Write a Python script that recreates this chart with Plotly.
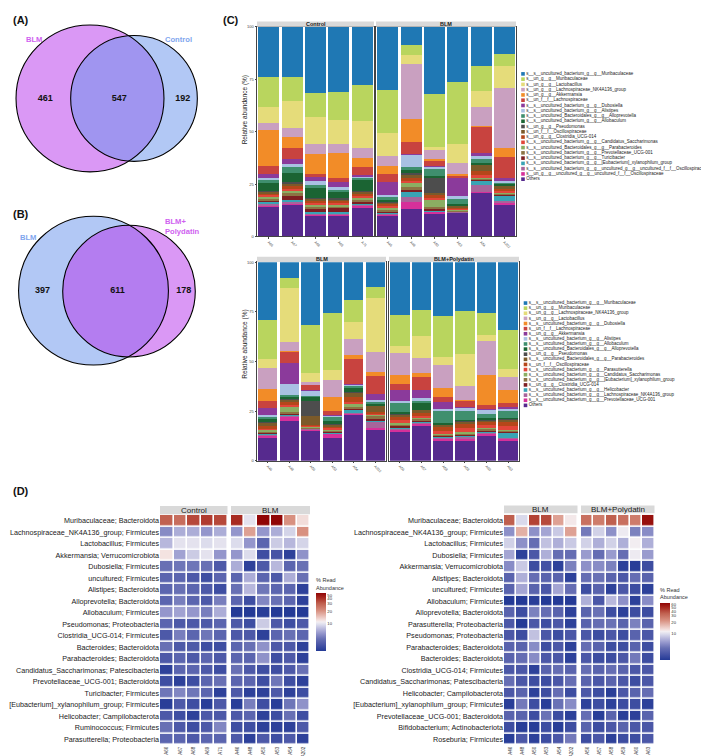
import numpy as np
import plotly.graph_objects as go

W, H = 709, 756
FONT = "Liberation Sans, Arial, sans-serif"
TXT = "#222222"

# ---------------- DATA ----------------
venn_a_sets = ["BLM", "Control"]
venn_a_counts = [461, 547, 192]          # only first, shared, only second
venn_b_sets = ["BLM", "BLM+<br>Polydatin"]
venn_b_counts = [397, 611, 178]

samples_control = ["A66", "A67", "A68", "A69", "A71"]
samples_blm = ["A46", "A48", "A50", "A53", "A54", "A202"]
samples_blmp = ["A56", "A57", "A58", "A59", "A60", "A63"]

taxa_top = [
    "s__s__uncultured_bacterium_g__g__Muribaculaceae",
    "s__un_g__g__Muribaculaceae",
    "s__un_g__g__Lactobacillus",
    "s__un_g__g__Lachnospiraceae_NK4A136_group",
    "s__un_g__g__Akkermansia",
    "s__un_f__f__Lachnospiraceae",
    "s__s__uncultured_bacterium_g__g__Dubosiella",
    "s__s__uncultured_bacterium_g__g__Alistipes",
    "s__s__uncultured_Bacteroidales_g__g__Alloprevotella",
    "s__s__uncultured_bacterium_g__g__Allobaculum",
    "s__un_g__g__Pseudomonas",
    "s__un_f__f__Oscillospiraceae",
    "s__un_g__g__Clostridia_UCG-014",
    "s__s__uncultured_bacterium_g__g__Candidatus_Saccharimonas",
    "s__s__uncultured_Bacteroidales_g__g__Parabacteroides",
    "s__s__uncultured_bacterium_g__g__Prevotellaceae_UCG-001",
    "s__s__uncultured_bacterium_g__g__Turicibacter",
    "s__s__uncultured_bacterium_g__g__[Eubacterium]_xylanophilum_group",
    "s__s__uncultured_bacterium_g__g__uncultured_g__g__uncultured_f__f__Oscillospiraceae",
    "s__un_g__g__uncultured_g__g__uncultured_f__f__Oscillospiraceae",
    "Others",
]
taxa_bottom = [
    "s__s__uncultured_bacterium_g__g__Muribaculaceae",
    "s__un_g__g__Muribaculaceae",
    "s__un_g__g__Lachnospiraceae_NK4A136_group",
    "s__un_g__g__Lactobacillus",
    "s__s__uncultured_bacterium_g__g__Dubosiella",
    "s__un_f__f__Lachnospiraceae",
    "s__un_g__g__Akkermansia",
    "s__s__uncultured_bacterium_g__g__Alistipes",
    "s__s__uncultured_bacterium_g__g__Allobaculum",
    "s__s__uncultured_Bacteroidales_g__g__Alloprevotella",
    "s__un_g__g__Pseudomonas",
    "s__s__uncultured_Bacteroidales_g__g__Parabacteroides",
    "s__un_f__f__Oscillospiraceae",
    "s__s__uncultured_bacterium_g__g__Parasutterella",
    "s__s__uncultured_bacterium_g__g__Candidatus_Saccharimonas",
    "s__s__uncultured_bacterium_g__g__[Eubacterium]_xylanophilum_group",
    "s__un_g__g__Clostridia_UCG-014",
    "s__s__uncultured_bacterium_g__g__Helicobacter",
    "s__s__uncultured_bacterium_g__g__Lachnospiraceae_NK4A136_group",
    "s__s__uncultured_bacterium_g__g__Prevotellaceae_UCG-001",
    "Others",
]
taxa_colors = ["#1F78B4", "#B9D55E", "#E5DC7A", "#C9A0C0", "#F28C28", "#C8433F",
               "#8B3A9B", "#A9C1E3", "#3F8F6E", "#1B6433", "#4D4D4D", "#7B5A2A",
               "#B5471A", "#E2463A", "#8BAE62", "#8C7343", "#7E1F22", "#39A4B5",
               "#A7659B", "#D6309A", "#562A8E"]

# relative abundance (%) per sample, taxa in legend order (first = top of stack)
top_control = [
    [23.7, 14.4, 7.9, 3.2, 17.2, 3.6, 1.9, 1.3, 1.5, 3.5, 0.3, 0.8, 1.0, 0.8, 0.8, 0.8, 1.0, 0.5, 0.8, 0.6, 14.4],
    [23.7, 11.5, 13.0, 4.4, 5.1, 5.5, 2.1, 1.6, 2.8, 4.3, 0.5, 1.2, 1.5, 1.2, 1.0, 1.2, 2.0, 0.6, 0.8, 0.8, 15.2],
    [31.4, 11.5, 13.1, 4.6, 9.5, 1.7, 1.9, 1.6, 1.6, 4.7, 0.3, 0.8, 1.2, 1.0, 0.8, 0.8, 2.0, 0.5, 0.4, 0.6, 10.0],
    [31.0, 13.4, 11.4, 4.3, 12.1, 1.9, 2.4, 0.8, 1.5, 3.0, 0.3, 0.8, 1.0, 0.8, 0.8, 0.8, 2.0, 0.5, 0.5, 0.6, 10.1],
    [27.7, 17.1, 13.0, 4.9, 4.3, 3.5, 0.8, 0.6, 1.0, 5.5, 0.3, 0.8, 1.2, 1.0, 0.8, 0.8, 1.0, 0.6, 0.5, 0.6, 14.0],
]
top_blm = [
    [30.1, 20.6, 11.1, 4.4, 4.0, 3.6, 6.2, 1.3, 1.1, 0.8, 0.3, 1.0, 1.0, 0.8, 0.8, 0.8, 0.8, 0.4, 0.3, 0.4, 10.2],
    [8.4, 5.1, 4.4, 26.0, 10.8, 6.0, 0.3, 6.0, 1.1, 1.5, 0.5, 2.0, 1.5, 1.0, 1.5, 1.5, 0.8, 2.5, 2.5, 3.5, 13.0],
    [31.8, 25.0, 1.5, 4.5, 0.5, 2.5, 0.3, 1.5, 3.2, 0.8, 7.3, 1.0, 1.2, 0.8, 3.5, 1.0, 0.5, 0.5, 0.4, 0.5, 11.2],
    [26.3, 29.6, 9.2, 5.1, 0.8, 1.3, 8.2, 1.6, 2.4, 0.5, 0.3, 0.8, 0.6, 0.4, 0.4, 0.3, 0.2, 0.2, 0.1, 0.3, 11.4],
    [18.7, 11.9, 7.9, 8.7, 0.2, 13.1, 1.4, 1.3, 2.0, 0.3, 0.3, 3.2, 1.9, 1.1, 0.5, 0.5, 0.5, 2.0, 3.2, 0.5, 21.0],
    [12.8, 5.9, 10.6, 28.5, 4.1, 10.1, 1.6, 0.5, 0.8, 0.5, 0.3, 1.6, 1.0, 0.5, 0.5, 0.8, 0.5, 2.7, 0.5, 0.8, 15.4],
]
bot_blm = [
    [29.5, 20.5, 4.5, 10.8, 6.3, 3.3, 4.0, 1.0, 1.0, 1.5, 0.3, 1.5, 1.5, 0.7, 1.0, 0.7, 0.5, 0.5, 0.5, 1.0, 11.7],
    [8.3, 4.8, 27.7, 4.8, 0.5, 5.8, 10.5, 5.6, 1.0, 1.0, 0.5, 1.5, 1.5, 0.8, 2.5, 1.0, 0.5, 0.8, 0.5, 1.8, 20.5],
    [31.7, 24.5, 4.5, 1.3, 0.3, 2.5, 0.2, 2.5, 0.5, 2.5, 7.3, 4.5, 0.6, 0.6, 0.3, 0.3, 0.3, 0.2, 0.2, 0.5, 15.2],
    [26.2, 29.5, 5.1, 8.7, 7.5, 2.0, 0.3, 0.5, 2.5, 1.5, 0.3, 1.0, 0.8, 1.0, 0.5, 0.5, 0.5, 0.3, 0.3, 2.0, 11.7],
    [18.7, 11.3, 8.7, 8.0, 1.7, 12.8, 0.3, 0.8, 0.8, 2.2, 0.3, 2.0, 2.5, 0.8, 1.7, 0.8, 0.8, 1.5, 0.5, 0.5, 23.0],
    [12.8, 5.8, 28.3, 10.3, 1.8, 9.5, 3.2, 1.0, 1.0, 0.8, 0.3, 3.0, 1.0, 0.8, 0.5, 1.7, 0.5, 0.5, 3.7, 0.5, 16.3],
]
bot_blmp = [
    [27.0, 15.8, 3.3, 11.2, 4.7, 2.8, 5.5, 1.0, 5.0, 0.8, 0.3, 1.5, 1.5, 1.2, 0.8, 1.0, 0.8, 0.5, 0.5, 1.0, 14.7],
    [24.2, 13.7, 11.2, 7.7, 1.7, 6.7, 4.5, 1.0, 1.5, 3.3, 0.3, 1.2, 1.5, 1.0, 0.8, 0.8, 0.5, 0.5, 0.5, 1.0, 18.0],
    [27.8, 21.2, 4.2, 12.2, 4.5, 2.5, 3.5, 1.0, 6.5, 0.8, 0.3, 1.0, 2.0, 1.5, 0.5, 0.8, 0.5, 0.5, 0.5, 1.2, 10.0],
    [24.5, 21.7, 16.2, 7.0, 0.5, 3.0, 0.5, 1.5, 4.5, 0.8, 0.3, 1.0, 2.0, 2.0, 0.8, 0.8, 0.5, 0.5, 0.8, 1.5, 9.7],
    [26.2, 11.2, 3.3, 17.5, 15.5, 2.0, 0.5, 2.0, 2.0, 1.0, 0.3, 1.0, 1.5, 1.5, 0.5, 0.8, 0.5, 0.5, 0.5, 1.0, 13.0],
    [35.0, 20.0, 4.2, 6.5, 6.7, 2.5, 0.5, 1.5, 3.3, 0.8, 0.3, 1.0, 2.0, 2.0, 0.5, 0.8, 0.5, 2.5, 0.5, 0.8, 10.5],
]

hm_left_rows = [
    "Muribaculaceae; Bacteroidota", "Lachnospiraceae_NK4A136_group; Firmicutes",
    "Lactobacillus; Firmicutes", "Akkermansia; Verrucomicrobiota", "Dubosiella; Firmicutes",
    "uncultured; Firmicutes", "Alistipes; Bacteroidota", "Alloprevotella; Bacteroidota",
    "Allobaculum; Firmicutes", "Pseudomonas; Proteobacteria", "Clostridia_UCG-014; Firmicutes",
    "Bacteroides; Bacteroidota", "Parabacteroides; Bacteroidota",
    "Candidatus_Saccharimonas; Patescibacteria", "Prevotellaceae_UCG-001; Bacteroidota",
    "Turicibacter; Firmicutes", "[Eubacterium]_xylanophilum_group; Firmicutes",
    "Helicobacter; Campilobacterota", "Ruminococcus; Firmicutes", "Parasutterella; Proteobacteria",
]
hm_left_control = [
    [30, 27, 35, 38, 35], [5, 6.5, 6.5, 5.5, 6.5], [7, 9.5, 9.5, 9, 9.5], [11.5, 6, 8, 9.5, 5.5],
    [4, 4.2, 4.2, 4, 3], [3.5, 3.5, 3, 2.6, 3.5], [3.5, 4, 3.5, 3, 2.6], [3.5, 4.5, 3.5, 3, 4.5],
    [5.5, 6, 5.5, 4.5, 6.5], [3.5, 3, 3, 3, 3.5], [3, 4.5, 3.5, 4.2, 3.5], [4, 3, 3, 2.6, 2.6],
    [3, 3.5, 3, 3.5, 3], [2.2, 3.5, 3.5, 3, 2.6], [2.6, 2.2, 2.6, 3.5, 4], [4.2, 4.8, 4.2, 3.5, 2.2],
    [2.1, 3, 2.6, 2.1, 3], [3, 2.6, 2.2, 3, 3], [4, 3, 2.6, 3, 4.8], [3.5, 3.5, 3, 3.5, 3.5],
]
hm_left_blm = [
    [42, 9.5, 55, 55, 20, 12], [5.5, 18, 5.5, 6.5, 8.5, 20], [9, 5.5, 3.5, 8, 7, 8.5],
    [5.5, 9, 2.6, 2.8, 2.2, 5.3], [6.5, 2.2, 3, 7, 3.5, 4], [3.5, 6.5, 3.5, 3, 6.5, 4],
    [4, 7, 4.2, 3.5, 3.5, 2.2], [3.5, 2.6, 4.8, 4, 3.5, 2.2], [2.0, 1.9, 2.1, 2.0, 1.9, 2.0],
    [3, 2.6, 8, 3, 2.6, 3], [3, 3, 2.2, 3.5, 4, 3.5], [3.5, 4, 5.3, 3, 3, 2.2],
    [3.5, 3.5, 5.3, 2.6, 3, 2.2], [4, 3, 2.6, 2.6, 3, 4], [3.5, 3.5, 2.6, 4.2, 2.6, 2.2],
    [3, 2.2, 2.2, 3, 2.2, 2.6], [2.1, 4.5, 2.6, 2.1, 4.2, 5.3], [3, 3.5, 2.2, 2.6, 4, 2.6],
    [2.6, 2.6, 2.2, 2.2, 2.2, 3], [3, 2.2, 3, 2.6, 3, 2.2],
]
hm_right_rows = [
    "Muribaculaceae; Bacteroidota", "Lachnospiraceae_NK4A136_group; Firmicutes",
    "Lactobacillus; Firmicutes", "Dubosiella; Firmicutes", "Akkermansia; Verrucomicrobiota",
    "Alistipes; Bacteroidota", "uncultured; Firmicutes", "Allobaculum; Firmicutes",
    "Alloprevotella; Bacteroidota", "Parasutterella; Proteobacteria", "Pseudomonas; Proteobacteria",
    "Parabacteroides; Bacteroidota", "Bacteroides; Bacteroidota", "Clostridia_UCG-014; Firmicutes",
    "Candidatus_Saccharimonas; Patescibacteria", "Helicobacter; Campilobacterota",
    "[Eubacterium]_xylanophilum_group; Firmicutes", "Prevotellaceae_UCG-001; Bacteroidota",
    "Bifidobacterium; Actinobacteriota", "Roseburia; Firmicutes",
]
hm_right_blm = [
    [35, 9.5, 42, 40, 20, 12], [5.5, 18, 5.5, 6.5, 8.5, 20], [9, 5.5, 4, 8, 7, 8.5],
    [6.5, 2.2, 3, 7, 4, 4], [5.3, 8.5, 2.6, 2.8, 2.2, 4.8], [3.5, 7, 4, 3.5, 3.5, 2.2],
    [3.5, 6.5, 3.5, 3, 6.5, 4], [2.0, 1.9, 2.1, 2.0, 1.9, 2.0], [3.5, 2.6, 4.8, 4, 3.5, 2.2],
    [3, 2.0, 3, 2.6, 3, 2.2], [3, 2.6, 8, 3, 2.6, 3], [3.5, 3.5, 5.3, 2.6, 3, 2.2],
    [3.5, 4, 5.3, 3, 3, 2.2], [3, 3, 2.2, 3.5, 4, 3.5], [4, 3, 2.6, 2.6, 3, 4],
    [3, 3.5, 2.2, 2.6, 4, 2.6], [2.1, 4.5, 2.6, 2.1, 4.2, 5.3], [3.5, 3.5, 2.6, 4.2, 2.6, 2.2],
    [2.6, 2.1, 2.1, 2.6, 2.1, 2.6], [2.1, 3, 2.2, 2.6, 3, 4.5],
]
hm_right_blmp = [
    [30, 27, 35, 30, 27, 60], [4.5, 9, 5.5, 11, 4.8, 5.3], [9, 7, 9, 7, 11.5, 7],
    [6, 4, 6, 4, 11, 6], [5.5, 5.3, 4.8, 2.2, 2.1, 2.6], [4, 4.2, 3.5, 3, 4, 3.5],
    [2.6, 3.5, 2.2, 3, 2.6, 2.2], [7, 3, 7.5, 5.5, 2.2, 5.3], [3.5, 4.2, 2.6, 2.2, 2.6, 2.6],
    [3.5, 4, 4.2, 3.5, 4.8, 3.5], [3, 2.6, 3, 2.6, 3.5, 3], [4, 3.5, 2.6, 2.6, 3.5, 2.6],
    [3, 2.6, 2.6, 3, 4.5, 2.6], [4, 3.5, 4, 3.5, 3, 3], [3.5, 3, 3.5, 3, 2.6, 3],
    [3, 2.6, 2.1, 3, 3.5, 4], [2.2, 2.6, 2.2, 2.6, 2.6, 2.2], [4, 2.1, 3.5, 2.1, 2.2, 3.5],
    [3.5, 2.6, 3, 3.5, 3, 3], [2.6, 3, 2.2, 2.6, 2.6, 3],
]
cbar_left_ticks = [10, 20, 30, 40, 50]
cbar_right_ticks = [10, 20, 30, 40, 50, 60]
abund_left_range = [2, 55]
abund_right_range = [2, 65]

HEAT_CS = [[0.0, "#243A96"], [0.12, "#4C58A8"], [0.21, "#6870B4"], [0.305, "#9496CC"],
           [0.38, "#B8B8DC"], [0.454, "#DCDCEC"], [0.5, "#F2EEF2"], [0.53, "#F4E2E0"],
           [0.695, "#D89080"], [0.82, "#C0604F"], [0.92, "#A82A20"], [1.0, "#900505"]]

# ---------------- HELPERS ----------------
fig = go.Figure()
L = dict(width=W, height=H, margin=dict(l=0, r=0, t=0, b=0), paper_bgcolor="white",
         plot_bgcolor="white", showlegend=False, barmode="stack", barnorm="percent",
         bargap=0.1, font=dict(family=FONT, color=TXT))
shapes, annots = [], []


def names(i):
    s = "" if i == 1 else str(i)
    return "x" + s, "y" + s, "xaxis" + s, "yaxis" + s


def xdom(a, b):
    return [a / W, b / W]


def ydom(t, b):
    return [1 - b / H, 1 - t / H]


def strip(x0, x1, y0, y1, label, size):
    shapes.append(dict(type="rect", xref="paper", yref="paper", x0=x0 / W, x1=x1 / W,
                       y0=1 - y1 / H, y1=1 - y0 / H, fillcolor="#D9D9D9",
                       line=dict(width=0), layer="above"))
    annots.append(dict(xref="paper", yref="paper", x=(x0 + x1) / 2 / W, y=1 - (y0 + y1) / 2 / H,
                       text=label, showarrow=False, font=dict(size=size, color="#1A1A1A"),
                       xanchor="center", yanchor="middle"))


def bar_facet(i, samples, bars, taxa, xd, yd, show_y):
    xa, ya, xk, yk = names(i)
    # plotly stacks the first trace at the bottom: add from "Others" upwards
    for k in reversed(range(len(taxa))):
        fig.add_trace(go.Bar(x=samples, y=[b[k] for b in bars], name=taxa[k],
                             marker=dict(color=taxa_colors[k], line=dict(width=0)),
                             xaxis=xa, yaxis=ya))
    L[xk] = dict(domain=xd, anchor=ya, type="category", showline=True, mirror=True,
                 linecolor="#444", linewidth=0.8, ticks="outside", ticklen=1.5, tickwidth=0.5,
                 tickcolor="#444", tickangle=45, tickfont=dict(size=3.5, color="#444"),
                 showgrid=False, zeroline=False)
    L[yk] = dict(domain=yd, anchor=xa, range=[0, 100], tickvals=[0, 25, 50, 75, 100],
                 showticklabels=show_y, ticks="outside" if show_y else "", ticklen=1.5,
                 tickwidth=0.5, tickcolor="#444", tickfont=dict(size=4, color="#444"),
                 showline=True, mirror=True, linecolor="#444", linewidth=0.8,
                 showgrid=False, zeroline=False)


def heat_facet(i, samples, rows, vals, xd, yd, cax, show_y):
    xa, ya, xk, yk = names(i)
    arr = np.array(vals, dtype=float)
    fig.add_trace(go.Heatmap(x=samples, y=rows, z=np.log10(arr), customdata=arr,
                             coloraxis=cax, xgap=1.6, ygap=1.6, xaxis=xa, yaxis=ya,
                             hovertemplate="%{y}<br>%{x}: %{customdata}%<extra></extra>"))
    L[xk] = dict(domain=xd, anchor=ya, type="category", showline=False, ticks="",
                 tickangle=-90, tickfont=dict(size=4.5, color="#333"), showgrid=False,
                 zeroline=False)
    L[yk] = dict(domain=yd, anchor=xa, type="category", autorange="reversed",
                 tickmode="array", tickvals=rows, ticktext=rows, showticklabels=show_y,
                 ticks="", tickfont=dict(size=7.2, color="#1A1A1A"), showline=False,
                 showgrid=False, zeroline=False)


def legend_block(i, taxa, xd, y_first, y_last):
    xa, ya, xk, yk = names(i)
    n = len(taxa)
    step = (y_last - y_first) / (n - 1)
    fig.add_trace(go.Scatter(x=[0] * n, y=list(range(n)), mode="markers+text", text=taxa,
                             textposition="middle right", cliponaxis=False,
                             textfont=dict(size=4.5, color="#222"),
                             marker=dict(symbol="square", size=3.6, color=taxa_colors),
                             xaxis=xa, yaxis=ya, hoverinfo="skip"))
    L[xk] = dict(domain=xd, anchor=ya, range=[-2, xd[1] * W - xd[0] * W - 2], visible=False)
    L[yk] = dict(domain=ydom(y_first - step / 2, y_last + step / 2), anchor=xa,
                 range=[n - 0.5, -0.5], visible=False)


def venn(i, sets, counts, yd, centers, k, set_cols, fills, label_pos):
    xa, ya, xk, yk = names(i)
    totals = [counts[0] + counts[1], counts[1] + counts[2]]
    radii = [k * np.sqrt(t) for t in totals]
    (c1x, c1y), (c2x, c2y) = centers
    for (cx, cy), r, fc in zip(centers, radii, fills):
        shapes.append(dict(type="circle", xref=xa, yref=ya, x0=cx - r, x1=cx + r,
                           y0=cy - r, y1=cy + r, fillcolor=fc, line=dict(width=0),
                           layer="below"))
    for (cx, cy), r in zip(centers, radii):
        shapes.append(dict(type="circle", xref=xa, yref=ya, x0=cx - r, x1=cx + r,
                           y0=cy - r, y1=cy + r, line=dict(color="black", width=1.1),
                           layer="above"))
    e1l, e1r = c1x - radii[0], c1x + radii[0]
    e2l, e2r = c2x - radii[1], c2x + radii[1]
    tx = [(e1l + e2l) / 2 + 2, (e2l + e1r) / 2 + 2, (e1r + e2r) / 2 + 2]
    ty = [(c1y + c2y) / 2] * 3
    fig.add_trace(go.Scatter(x=tx, y=ty, mode="text", text=[f"<b>{c}</b>" for c in counts],
                             textfont=dict(size=9, color="#111"), xaxis=xa, yaxis=ya,
                             hoverinfo="skip"))
    for s, col, (lx, ly) in zip(sets, set_cols, label_pos):
        annots.append(dict(xref=xa, yref=ya, x=lx, y=ly, text=f"<b>{s}</b>", showarrow=False,
                           font=dict(size=7.6, color=col), align="left", xanchor="center",
                           yanchor="middle"))
    L[xk] = dict(domain=xdom(0, 230), anchor=ya, range=[0, 230], visible=False)
    L[yk] = dict(domain=yd, anchor=xa, range=[180, 0], visible=False)


# ---------------- BUILD ----------------
VIOLET = "rgba(181,49,235,0.5)"
BLUE = "rgba(101,145,235,0.5)"
VIOLET_TXT = "#CF62F0"
BLUE_TXT = "#7FA6EE"

# (A) and (B) Venn diagrams
venn(9, venn_a_sets, venn_a_counts, ydom(0, 180), [(82, 88), (126, 88)], 2.33,
     [VIOLET_TXT, BLUE_TXT], [VIOLET, BLUE], [(26, 29), (170, 29)])
venn(10, venn_b_sets, venn_b_counts, ydom(180, 360), [(85.5, 101.5), (121, 102)], 2.36,
     [BLUE_TXT, VIOLET_TXT], [BLUE, VIOLET], [(20, 48), (174, 37)])

# (C) stacked bars
bar_facet(1, samples_control, top_control, taxa_top, xdom(249, 366), ydom(16, 227), True)
bar_facet(2, samples_blm, top_blm, taxa_top, xdom(368, 508), ydom(16, 227), False)
bar_facet(3, samples_blm, bot_blm, taxa_bottom, xdom(249, 378), ydom(253, 452.7), True)
bar_facet(4, samples_blmp, bot_blmp, taxa_bottom, xdom(381, 511), ydom(253, 452.7), False)
strip(249, 366, 10.5, 15.8, "<b>Control</b>", 5.5)
strip(368, 508, 10.5, 15.8, "<b>BLM</b>", 5.5)
strip(249, 378, 247.3, 252.7, "<b>BLM</b>", 5.5)
strip(381, 511, 247.3, 252.7, "<b>BLM+Polydatin</b>", 5.5)
for yc in (100, 336):
    annots.append(dict(xref="paper", yref="paper", x=237 / W, y=1 - yc / H,
                       text="Relative abundance (%)", textangle=-90, showarrow=False,
                       font=dict(size=6.5, color="#222"), xanchor="center", yanchor="middle"))
legend_block(11, taxa_top, xdom(513, 709), 63.3, 169.3)
legend_block(12, taxa_bottom, xdom(515.5, 709), 294.0, 397.0)

# (D) heatmaps
heat_facet(5, samples_control, hm_left_rows, hm_left_control, xdom(152, 219.5),
           ydom(507.2, 738.8), "coloraxis", True)
heat_facet(6, samples_blm, hm_left_rows, hm_left_blm, xdom(223, 302),
           ydom(507.2, 738.8), "coloraxis", False)
heat_facet(7, samples_blm, hm_right_rows, hm_right_blm, xdom(496, 569.5),
           ydom(507.2, 738.8), "coloraxis2", True)
heat_facet(8, samples_blmp, hm_right_rows, hm_right_blmp, xdom(573, 646.5),
           ydom(507.2, 738.8), "coloraxis2", False)
strip(152, 219.5, 498.3, 506.5, "Control", 8)
strip(223, 302, 498.3, 506.5, "BLM", 8)
strip(496, 569.5, 497.7, 505.7, "BLM", 8)
strip(573, 646.5, 497.7, 505.7, "BLM+Polydatin", 8)


def cbar(ticks, x0, ytop, ybot):
    # ytop is the top of the title block; the colour bar itself follows below it
    return dict(x=x0 / W, xanchor="left", xpad=0, y=1 - ytop / H, yanchor="top", ypad=0,
                len=(ybot - ytop) / H, lenmode="fraction", thickness=10,
                thicknessmode="pixels", outlinewidth=0, tickvals=list(np.log10(ticks)),
                ticktext=[str(t) for t in ticks], ticks="", tickfont=dict(size=4.2, color="#333"),
                title=dict(text="% Read<br>Abundance", side="top",
                           font=dict(size=5.5, color="#333")))


L["coloraxis"] = dict(colorscale=HEAT_CS, cmin=float(np.log10(abund_left_range[0])),
                      cmax=float(np.log10(abund_left_range[1])),
                      colorbar=cbar(cbar_left_ticks, 308, 568, 645))
L["coloraxis2"] = dict(colorscale=HEAT_CS, cmin=float(np.log10(abund_right_range[0])),
                       cmax=float(np.log10(abund_right_range[1])),
                       colorbar=cbar(cbar_right_ticks, 652, 578, 653))

# panel letters
for lab, xp, yp in [("(A)", 3, 9), ("(B)", 3, 204), ("(C)", 213, 9), ("(D)", 3, 483)]:
    annots.append(dict(xref="paper", yref="paper", x=xp / W, y=1 - yp / H,
                       text=f"<b>{lab}</b>", showarrow=False, font=dict(size=11, color="#111"),
                       xanchor="left", yanchor="middle"))

L["shapes"] = shapes
L["annotations"] = annots
fig.update_layout(**L)
fig.write_html("out.html")
